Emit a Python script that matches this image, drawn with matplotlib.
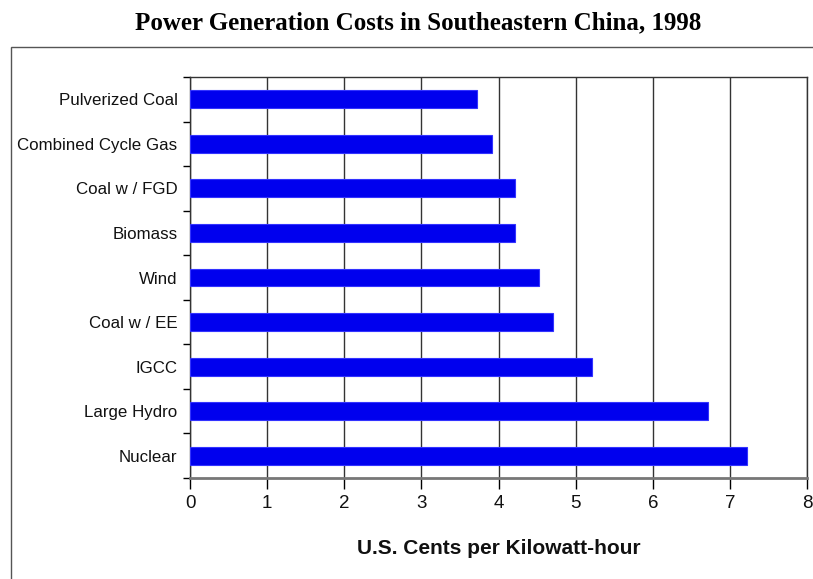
import numpy as np
import matplotlib.pyplot as plt
from matplotlib.patches import Rectangle

# data (cents per kWh)
categories = ["Pulverized Coal", "Combined Cycle Gas", "Coal w / FGD", "Biomass",
              "Wind", "Coal w / EE", "IGCC", "Large Hydro", "Nuclear"]
costs = [3.72, 3.92, 4.21, 4.21, 4.53, 4.71, 5.21, 6.72, 7.22]
xticks = [0, 1, 2, 3, 4, 5, 6, 7, 8]


def main():
    fig = plt.figure(figsize=(8.13, 5.79), dpi=100)
    ax = fig.add_axes([190/813, 1-478/579, (807-190)/813, (478-77)/579])

    # outer frame of the chart area
    fig.patches.append(Rectangle((11/813, -0.02), 1.0, 1-47/579+0.02,
                                 transform=fig.transFigure, fill=False,
                                 edgecolor='#555555', linewidth=1.0))

    fig.text(418/813, 1-23/579, "Power Generation Costs in Southeastern China, 1998",
             ha='center', va='center', fontsize=18, fontweight='bold',
             family='Liberation Serif')

    y = np.arange(len(categories))
    ax.barh(y, costs, height=0.4, color='#0000EE', edgecolor='#3333FF', linewidth=0.8,
            zorder=3)
    ax.set_ylim(len(categories)-0.5, -0.5)
    ax.set_xlim(0, 8)

    ax.set_yticks(y)
    ax.set_yticklabels(categories, family='Liberation Sans', fontsize=12.2, color='#111111')
    ax.set_yticks(np.arange(len(categories)+1)-0.5, minor=True)
    ax.tick_params(axis='y', which='major', length=0, pad=9)
    ax.tick_params(axis='y', which='minor', length=5, width=1, direction='out')

    ax.set_xticks(xticks)
    ax.set_xticklabels([str(t) for t in xticks], family='Liberation Sans', fontsize=13.5,
                       color='#111111')
    ax.tick_params(axis='x', length=8, width=1, direction='out', pad=4)

    ax.set_xlabel("U.S. Cents per Kilowatt-hour", family='Liberation Sans',
                  fontsize=15, fontweight='bold', labelpad=20, color='#111111')

    ax.grid(axis='x', color='#333333', linewidth=1.0, zorder=0)
    for s in ax.spines.values():
        s.set_color('#333333')
        s.set_linewidth(1.0)
    ax.spines['bottom'].set_color('#777777')
    ax.spines['bottom'].set_linewidth(2)

    fig.savefig("out.png", dpi=100)


if __name__ == "__main__":
    main()
